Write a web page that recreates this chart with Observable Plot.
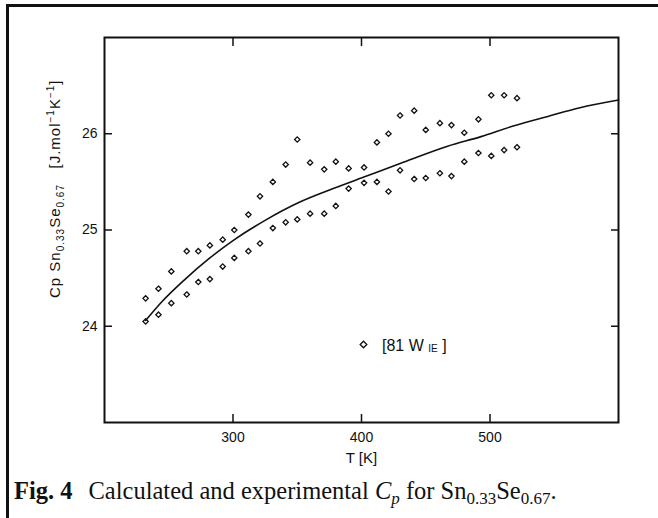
<!DOCTYPE html>
<html>
<head>
<meta charset="utf-8">
<script src="https://cdn.jsdelivr.net/npm/d3@7"></script>
<script src="https://cdn.jsdelivr.net/npm/@observablehq/plot@0.6"></script>
<style>
  html, body { margin: 0; padding: 0; background: white; }
  #wrap { position: relative; width: 658px; height: 518px; overflow: hidden; background: white; }
  #border { position: absolute; left: 6px; top: 4px; width: 660px; height: 520px;
            border-left: 3px solid #111; border-top: 3px solid #111; box-sizing: border-box; }
  #chart { position: absolute; left: 0; top: 0; }
  #caption { position: absolute; left: 14px; top: 478px; font-family: "Liberation Serif", "Times New Roman", serif;
             font-size: 24.5px; line-height: 26px; color: #111; white-space: nowrap; }
  #caption b { margin-right: 16px; }
  #caption sub { font-size: 17px; vertical-align: -5px; line-height: 0; }
</style>
</head>
<body>
<div id="wrap">
  <div id="border"></div>
  <div id="chart"></div>
  <div id="caption"><b>Fig. 4</b>Calculated and experimental <i>C<sub>p</sub></i> for Sn<sub>0.33</sub>Se<sub>0.67</sub>.</div>
</div>
<script>
// Temperatures of the experimental points [K]
const temps = [232, 242, 252, 264, 273, 282, 292, 301, 312, 321, 331, 341, 350, 360, 371,
               380, 390, 402, 412, 421, 430, 441, 450, 461, 470, 480, 491, 501, 511, 521];
// Experimental Cp, upper branch of points
const cpUpper = [24.29, 24.39, 24.57, 24.78, 24.78, 24.84, 24.90, 25.00, 25.16, 25.35, 25.50, 25.68, 25.94, 25.70, 25.63,
                 25.71, 25.64, 25.65, 25.91, 26.00, 26.19, 26.24, 26.04, 26.11, 26.09, 26.01, 26.15, 26.40, 26.40, 26.37];
// Experimental Cp, lower branch of points
const cpLower = [24.05, 24.12, 24.24, 24.33, 24.46, 24.49, 24.62, 24.71, 24.78, 24.86, 25.02, 25.08, 25.11, 25.17, 25.17,
                 25.25, 25.43, 25.49, 25.50, 25.40, 25.62, 25.53, 25.54, 25.59, 25.56, 25.71, 25.80, 25.77, 25.83, 25.86];
// Calculated curve
const calcT  = [232, 245, 262, 282, 300, 325, 352, 378, 404, 430, 467, 493, 518, 545, 570, 600];
const calcCp = [24.06, 24.26, 24.48, 24.71, 24.89, 25.10, 25.29, 25.43, 25.56, 25.69, 25.87, 25.97, 26.08, 26.18, 26.27, 26.35];
// Axes
const xTicks = [300, 400, 500];
const yTicks = [24, 25, 26];
const xDomain = [200, 600];
const yDomain = [23, 27];
const legendLabel = "[81 W";
const legendSub = "IE";

const points = temps.flatMap((t, i) => [{T: t, Cp: cpUpper[i]}, {T: t, Cp: cpLower[i]}]);
const calc = calcT.map((t, i) => ({T: t, Cp: calcCp[i]}));

const ink = "#111";
const fmt = d => String(d);
const chart = Plot.plot({
  width: 658,
  height: 470,
  marginLeft: 104,
  marginRight: 40,
  marginTop: 37,
  marginBottom: 48,
  style: {fontFamily: "'Liberation Sans', Arial, sans-serif", fontSize: "14px", color: ink, background: "transparent", overflow: "visible"},
  x: {domain: xDomain},
  y: {domain: yDomain},
  marks: [
    Plot.axisX(xTicks, {anchor: "bottom", tickSize: -8, tickPadding: 18, tickFormat: fmt, strokeWidth: 1.5, label: null}),
    Plot.axisX(xTicks, {anchor: "top", tickSize: -8, tickFormat: () => "", strokeWidth: 1.5, label: null}),
    Plot.axisY(yTicks, {anchor: "left", tickSize: -8, tickPadding: 15, tickFormat: fmt, strokeWidth: 1.5, label: null}),
    Plot.axisY(yTicks, {anchor: "right", tickSize: -8, tickFormat: () => "", strokeWidth: 1.5, label: null}),
    Plot.frame({stroke: ink, strokeWidth: 2}),
    Plot.line(calc, {x: "T", y: "Cp", curve: "monotone-x", stroke: ink, strokeWidth: 1.6}),
    Plot.dot(points, {x: "T", y: "Cp", symbol: "diamond2", r: 2.4, stroke: ink, strokeWidth: 1.3, fill: "none"}),
    Plot.dot([legendLabel], {frameAnchor: "top-left", dx: 259, dy: 307, symbol: "diamond2", r: 3, stroke: ink, strokeWidth: 1.3, fill: "none"}),
    Plot.text(["T [K]"], {frameAnchor: "bottom", dy: 40, fontSize: 15, fill: ink, letterSpacing: 0.8})
  ]
});
document.getElementById("chart").appendChild(chart);

const svg = d3.select(chart);
// y-axis title with subscripts / superscripts
const yl = svg.append("text")
  .attr("transform", "translate(60,298) rotate(-90)")
  .attr("text-anchor", "start")
  .attr("font-size", 15).attr("fill", ink).style("white-space", "pre")
  .attr("letter-spacing", 1);
yl.append("tspan").text("Cp Sn");
yl.append("tspan").attr("font-size", 10).attr("dy", 3.5).text("0.33");
yl.append("tspan").attr("dy", -3.5).text("Se");
yl.append("tspan").attr("font-size", 10).attr("dy", 3.5).text("0.67");
yl.append("tspan").attr("dy", -3.5).text("   [J.mol");
yl.append("tspan").attr("font-size", 10).attr("dy", -6).text("−1");
yl.append("tspan").attr("dy", 6).text("K");
yl.append("tspan").attr("font-size", 10).attr("dy", -6).text("−1");
yl.append("tspan").attr("dy", 6).text("]");

// legend text
const lt = svg.append("text")
  .attr("x", 382).attr("y", 351)
  .attr("text-anchor", "start")
  .attr("font-size", 16).attr("fill", ink).style("white-space", "pre");
lt.append("tspan").text(legendLabel + " ");
lt.append("tspan").attr("font-size", 10).attr("dy", 1).text(legendSub);
lt.append("tspan").attr("dy", -1).text(" ]");
</script>
</body>
</html>
